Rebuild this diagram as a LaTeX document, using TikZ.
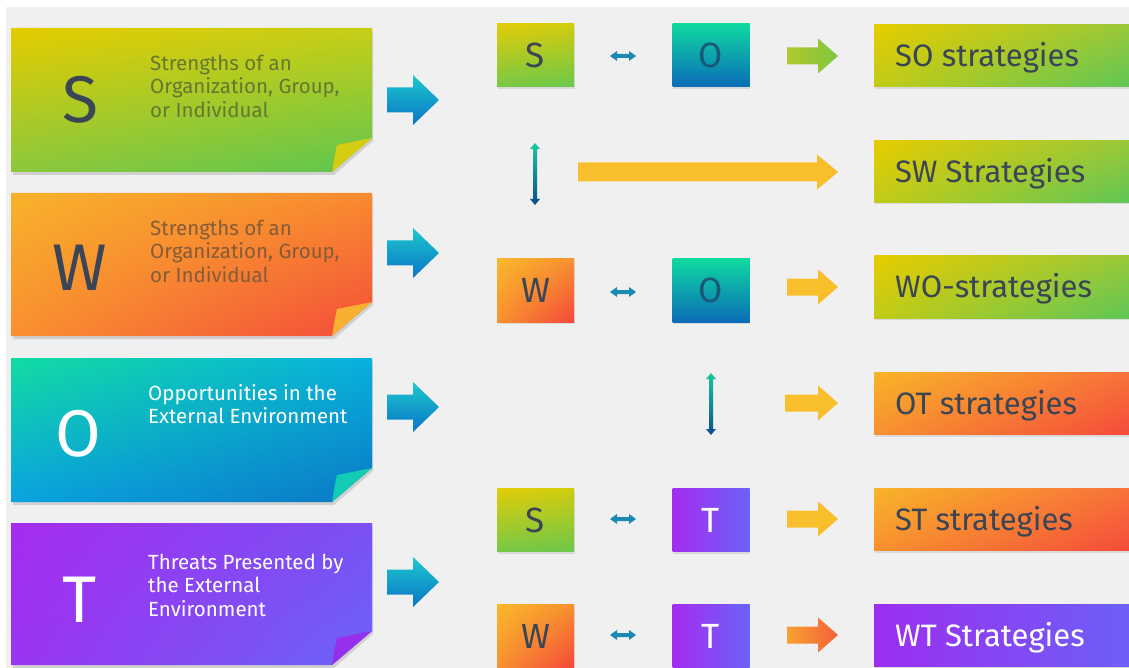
\documentclass[tikz,border=0pt]{standalone}
\usepackage{fontspec}
\setmainfont{Fira Sans}
\usetikzlibrary{shadows,shadings}
\definecolor{bg}{HTML}{F0F0F0}
\definecolor{ink}{HTML}{3A4556}
\definecolor{stext}{HTML}{667830}
\definecolor{wtext}{HTML}{845C38}
\definecolor{otext}{HTML}{1A5878}
\definecolor{arrblueT}{HTML}{1CC8CC}
\definecolor{arrblueB}{HTML}{0A74C8}
\definecolor{arryel}{HTML}{F8BE2C}
\definecolor{dblue}{HTML}{1A8AB4}
\definecolor{HTMLE4CC00}{HTML}{E4CC00}\definecolor{HTMLC6CE18}{HTML}{C6CE18}\definecolor{HTML8CC83C}{HTML}{8CC83C}\definecolor{HTML5EC64E}{HTML}{5EC64E}
\definecolor{HTMLF8B22A}{HTML}{F8B22A}\definecolor{HTMLF98A30}{HTML}{F98A30}\definecolor{HTMLF99030}{HTML}{F99030}\definecolor{HTMLF34C3A}{HTML}{F34C3A}
\definecolor{HTML12DCA0}{HTML}{12DCA0}\definecolor{HTML08B0DE}{HTML}{08B0DE}\definecolor{HTML0AA2E2}{HTML}{0AA2E2}\definecolor{HTML0A78C4}{HTML}{0A78C4}
\definecolor{HTMLA62CF0}{HTML}{A62CF0}\definecolor{HTML7A50F4}{HTML}{7A50F4}\definecolor{HTML9A34F0}{HTML}{9A34F0}\definecolor{HTML6A64F8}{HTML}{6A64F8}
\definecolor{HTMLE2CC08}{HTML}{E2CC08}\definecolor{HTMLD0CC10}{HTML}{D0CC10}\definecolor{HTML78C844}{HTML}{78C844}\definecolor{HTML6CC84A}{HTML}{6CC84A}
\definecolor{HTMLF8B82A}{HTML}{F8B82A}\definecolor{HTMLF89030}{HTML}{F89030}\definecolor{HTMLF89230}{HTML}{F89230}\definecolor{HTMLF4483A}{HTML}{F4483A}
\definecolor{HTML0FD8A0}{HTML}{0FD8A0}\definecolor{HTML08B2E0}{HTML}{08B2E0}\definecolor{HTML0A6CB8}{HTML}{0A6CB8}
\definecolor{HTMLA42CF0}{HTML}{A42CF0}\definecolor{HTML6C62F8}{HTML}{6C62F8}
\definecolor{HTMLE6CC00}{HTML}{E6CC00}\definecolor{HTML98C83A}{HTML}{98C83A}\definecolor{HTMLC2CB18}{HTML}{C2CB18}\definecolor{HTML5CC658}{HTML}{5CC658}
\definecolor{HTMLF8B428}{HTML}{F8B428}\definecolor{HTMLF8703A}{HTML}{F8703A}\definecolor{HTMLF44A3A}{HTML}{F44A3A}
\definecolor{HTML9C2EF0}{HTML}{9C2EF0}\definecolor{HTML6C60F8}{HTML}{6C60F8}
\definecolor{HTML18C8A0}{HTML}{18C8A0}\definecolor{HTML0A90C8}{HTML}{0A90C8}\definecolor{HTML0A4C90}{HTML}{0A4C90}
\definecolor{foldS}{HTML}{D6CC12}\definecolor{foldW}{HTML}{F8B030}\definecolor{foldO}{HTML}{12CCB4}\definecolor{foldT}{HTML}{9630EC}
\definecolor{yg1}{HTML}{B0C82C}\definecolor{yg2}{HTML}{80C640}
\definecolor{or1}{HTML}{F8A030}\definecolor{or2}{HTML}{F4603A}
\newcommand\blockarrpath[6]{(#1,#3-#4) -- (#2-#6,#3-#4) -- (#2-#6,#3-#5) -- (#2,#3) -- (#2-#6,#3+#5) -- (#2-#6,#3+#4) -- (#1,#3+#4) -- cycle}
\newcommand\hdarrpath[6]{(#1,#3) -- (#1+#6,#3-#5) -- (#1+#6,#3-#4) -- (#2-#6,#3-#4) -- (#2-#6,#3-#5) -- (#2,#3) -- (#2-#6,#3+#5) -- (#2-#6,#3+#4) -- (#1+#6,#3+#4) -- (#1+#6,#3+#5) -- cycle}
\newcommand\vdarrpath[6]{(#1,#2) -- (#1+#5,#2+#6) -- (#1+#4,#2+#6) -- (#1+#4,#3-#6) -- (#1+#5,#3-#6) -- (#1,#3) -- (#1-#5,#3-#6) -- (#1-#4,#3-#6) -- (#1-#4,#2+#6) -- (#1-#5,#2+#6) -- cycle}
\newcommand\cardshape[4]{%
  \fill[black,opacity=.13] (13,#1+3) -- (373,#1+3) -- (373,#2-31) -- (334,#2+3) -- (13,#2+3) -- cycle;
  \shade[#3] (11,#1) -- (372,#1) -- (372,#2-34) -- (332,#2) -- (11,#2) -- cycle;
  \fill[#4] (372,#2-34) -- (337,#2-27) .. controls (335,#2-18) .. (332,#2) -- cycle;}
\begin{document}
\begin{tikzpicture}[x=1pt,y=-1pt,
  cardS/.style={upper left=HTMLE4CC00, upper right=HTMLC6CE18, lower left=HTML8CC83C, lower right=HTML5EC64E},
  cardW/.style={upper left=HTMLF8B22A, upper right=HTMLF98A30, lower left=HTMLF99030, lower right=HTMLF34C3A},
  cardO/.style={upper left=HTML12DCA0, upper right=HTML08B0DE, lower left=HTML0AA2E2, lower right=HTML0A78C4},
  cardT/.style={upper left=HTMLA62CF0, upper right=HTML7A50F4, lower left=HTML9A34F0, lower right=HTML6A64F8},
  bigletter/.style={font=\fontsize{66}{66}\selectfont, inner sep=0pt},
  cardtext/.style={font=\fontsize{20.5}{23.5}\selectfont, align=left, anchor=west, inner sep=0pt},
  sbox/.style={minimum width=77pt, minimum height=63pt, inner sep=0pt, font=\fontsize{35}{35}\selectfont,
     drop shadow={shadow xshift=0.5pt, shadow yshift=-2pt, opacity=.2}},
  smS/.style={sbox, upper left=HTMLE2CC08, upper right=HTMLD0CC10, lower left=HTML78C844, lower right=HTML6CC84A, text=ink},
  smW/.style={sbox, upper left=HTMLF8B82A, upper right=HTMLF89030, lower left=HTMLF89230, lower right=HTMLF4483A, text=ink},
  smO/.style={sbox, top color=HTML0FD8A0, middle color=HTML08B2E0, bottom color=HTML0A6CB8, text=otext},
  smT/.style={sbox, left color=HTMLA42CF0, right color=HTML6C62F8, text=white},
  rbox/.style={minimum width=261pt, minimum height=62pt, inner sep=0pt, anchor=west,
     drop shadow={shadow xshift=0.5pt, shadow yshift=-2pt, opacity=.2}},
  rS/.style={rbox, upper left=HTMLE6CC00, upper right=HTML98C83A, lower left=HTMLC2CB18, lower right=HTML5CC658},
  rO/.style={rbox, upper left=HTMLF8B428, upper right=HTMLF8703A, lower left=HTMLF89030, lower right=HTMLF44A3A},
  rT/.style={rbox, left color=HTML9C2EF0, right color=HTML6C60F8},
  rtext/.style={font=\fontsize{31}{31}\selectfont, anchor=base west, inner sep=0pt, text=ink},
  bluearr/.style={top color=arrblueT, bottom color=arrblueB},
  vdarr/.style={top color=HTML18C8A0, middle color=HTML0A90C8, bottom color=HTML0A4C90},
]
\useasboundingbox (0,0) rectangle (1129,668);
\clip (0,0) rectangle (1129,668);
\fill[white] (0,0) rectangle (1129,668);
\fill[bg] (6,7) rectangle (1129,668);

% left cards
\cardshape{28}{172}{cardS}{foldS}
\cardshape{193}{336}{cardW}{foldW}
\cardshape{358}{502}{cardO}{foldO}
\cardshape{523}{665}{cardT}{foldT}

\node[bigletter, text=ink] (bS) at (80,100) {S};
\node[bigletter, text=ink] (bW) at (80,268) {W};
\node[bigletter, text=white] (bO) at (78,434) {O};
\node[bigletter, text=white] (bT) at (80,600) {T};

\node[cardtext, text=stext] (tS) at (150,86) {Strengths of an\\Organization, Group,\\or Individual};
\node[cardtext, text=wtext] (tW) at (150,251) {Strengths of an\\Organization, Group,\\or Individual};
\node[cardtext, text=white] (tO) at (148,404) {Opportunities in the\\External Environment};
\node[cardtext, text=white] (tT) at (148,585) {Threats Presented by\\the External\\Environment};

% blue arrows
\shade[bluearr] \blockarrpath{387}{439}{100}{12.5}{25}{26};
\shade[bluearr] \blockarrpath{387}{439}{253}{12.5}{25}{26};
\shade[bluearr] \blockarrpath{387}{439}{407}{12.5}{25}{26};
\shade[bluearr] \blockarrpath{387}{439}{582}{12.5}{25}{26};

% middle small boxes
\node[smS] (s1) at (535.5,55.5) {S};
\node[smO] (o1) at (711,55.5) {O};
\node[smW] (w3) at (535.5,290.5) {W};
\node[smO] (o3) at (711,290.5) {O};
\node[smS] (s5) at (535.5,520) {S};
\node[smT] (t5) at (711,520) {T};
\node[smW] (w6) at (535.5,636) {W};
\node[smT] (t6) at (711,636) {T};

% small double arrows
\fill[dblue] \hdarrpath{610}{636}{56}{2}{5}{7};
\fill[dblue] \hdarrpath{610}{636}{292}{2}{5}{7};
\fill[dblue] \hdarrpath{610}{636}{519}{2}{5}{7};
\fill[dblue] \hdarrpath{610}{636}{635}{2}{5}{7};
\shade[vdarr] \vdarrpath{535}{143}{205}{2}{5}{6};
\shade[vdarr] \vdarrpath{711}{373}{435}{2}{5}{6};

% strategy arrows
\shade[left color=yg1, right color=yg2] \blockarrpath{787}{838}{56}{8.5}{17.5}{20};
\fill[arryel] \blockarrpath{578}{838}{172}{9.5}{17.5}{21};
\fill[arryel] \blockarrpath{787}{838}{287}{8.5}{17.5}{20};
\fill[arryel] \blockarrpath{785}{838}{403}{8.5}{17.5}{20};
\fill[arryel] \blockarrpath{787}{838}{519}{8.5}{17.5}{20};
\shade[left color=or1, right color=or2] \blockarrpath{787}{838}{635}{8.5}{17.5}{20};

% right boxes
\node[rS] (rSO) at (874,56) {};
\node[rS] (rSW) at (874,171.5) {};
\node[rS] (rWO) at (874,287) {};
\node[rO] (rOT) at (874,403.5) {};
\node[rO] (rST) at (874,519.5) {};
\node[rT] (rWT) at (874,635.5) {};
\node[rtext] (lSO) at (895,67) {SO strategies};
\node[rtext] (lSW) at (895,182.5) {SW Strategies};
\node[rtext] (lWO) at (895,298) {WO-strategies};
\node[rtext] (lOT) at (895,414.5) {OT strategies};
\node[rtext] (lST) at (895,530.5) {ST strategies};
\node[rtext, text=white] (lWT) at (895,646.5) {WT Strategies};
\end{tikzpicture}
\end{document}
